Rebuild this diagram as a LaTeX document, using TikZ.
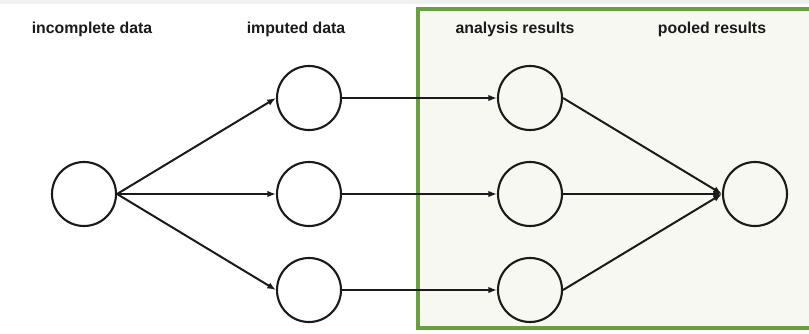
\documentclass[tikz,border=0pt]{standalone}
\usepackage{fontspec}
\setmainfont{Liberation Sans}
\usetikzlibrary{arrows.meta}
\definecolor{boxgreen}{RGB}{106,160,60}
\definecolor{boxfill}{RGB}{248,248,243}
\definecolor{ink}{RGB}{26,26,26}

\begin{document}
\begin{tikzpicture}[x=0.03cm, y=-0.03cm, >={Latex[length=2.6mm,width=2mm]},
    dataset/.style={circle, draw=ink, line width=1.8pt, minimum size=1.92cm, inner sep=0pt},
    heading/.style={anchor=base, font=\bfseries\fontsize{13.5}{16}\selectfont, text=ink},
    link/.style={->, draw=ink, line width=1.7pt}]
    % Pixel grid of the 809x333 reference.
    \clip (0,0) rectangle (809,333);
    \fill[white] (0,0) rectangle (809,333);
    \fill[black!6] (0,0) rectangle (809,4);
    \draw[boxgreen, line width=2.8pt, fill=boxfill] (418,9) rectangle (830,328);

    \node[heading] (lblraw) at (92,33) {incomplete data};
    \node[heading] (lblimp) at (296,33) {imputed data};
    \node[heading] (lblres) at (515,33) {analysis results};
    \node[heading] (lblpool) at (712,33) {pooled results};

    \node[dataset] (raw) at (84,194) {};
    \node[dataset] (imp1) at (309,98) {};
    \node[dataset] (imp2) at (309,194) {};
    \node[dataset] (imp3) at (309,290) {};
    \node[dataset] (res1) at (530,98) {};
    \node[dataset] (res2) at (530,194) {};
    \node[dataset] (res3) at (530,290) {};
    \node[dataset] (pool) at (755,194) {};

    \foreach \i in {1,2,3} {
      \draw[link] (raw.east) -- (imp\i.west);
      \draw[link] (imp\i.east) -- (res\i.west);
      \draw[link] (res\i.east) -- (pool.west);
    }
\end{tikzpicture}
\end{document}
